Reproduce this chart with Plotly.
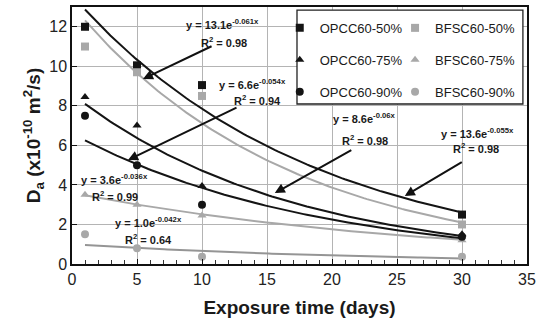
import numpy as np
import plotly.graph_objects as go

# ---------------- data ----------------
days = [1, 5, 10, 30]
series_names = ["OPCC60-50%", "BFSC60-50%", "OPCC60-75%", "BFSC60-75%", "OPCC60-90%", "BFSC60-90%"]
opcc_50 = [12.0, 10.05, 9.05, 2.5]
bfsc_50 = [11.0, 9.7, 8.5, 2.0]
opcc_75 = [8.45, 7.0, 3.95, 1.5]
bfsc_75 = [3.5, 3.0, 2.45, 1.2]
opcc_90 = [7.5, 5.0, 3.0, 1.38]
bfsc_90 = [1.5, 0.8, 0.37, 0.37]

# exponential trend lines  y = a * exp(b x)
fit_a = [13.6, 13.1, 8.6, 3.6, 6.6, 1.0]
fit_b = [-0.055, -0.061, -0.06, -0.036, -0.054, -0.042]
fit_r2 = ["0.98", "0.98", "0.98", "0.99", "0.94", "0.64"]
fit_a_txt = ["13.6", "13.1", "8.6", "3.6", "6.6", "1.0"]
fit_b_txt = ["-0.055x", "-0.061x", "-0.06x", "-0.036x", "-0.054x", "-0.042x"]

x_ticks = [0, 5, 10, 15, 20, 25, 30, 35]
y_ticks = [0, 2, 4, 6, 8, 10, 12]

BLACK = "#141414"
GRAY = "#a8a8a8"
GRAY2 = "#959595"
FONT = "Arial, Liberation Sans, sans-serif"

values = [opcc_50, bfsc_50, opcc_75, bfsc_75, opcc_90, bfsc_90]
colors = [BLACK, GRAY, BLACK, GRAY, BLACK, GRAY]
symbols = ["square", "square", "triangle-up", "triangle-up", "circle", "circle"]
sizes = [8, 8, 8, 8, 8, 8]
curve_colors = [BLACK, GRAY, BLACK, GRAY, BLACK, GRAY2]

fig = go.Figure()

# trend curves
xs = np.linspace(1, 30, 120)
for a, b, c in zip(fit_a, fit_b, curve_colors):
    fig.add_trace(go.Scatter(x=xs, y=a * np.exp(b * xs), mode="lines",
                             line=dict(color=c, width=2), showlegend=False,
                             hoverinfo="skip"))

# data markers
for i, (name, vals, col, sym, sz) in enumerate(zip(series_names, values, colors, symbols, sizes)):
    fig.add_trace(go.Scatter(
        x=days, y=vals, mode="markers", name=name,
        marker=dict(symbol=sym, color=col, size=sz, line=dict(width=0)),
        legend="legend" if i % 2 == 0 else "legend2",
        legendgroup=name,
    ))

# ---------------- annotations ----------------
ann_font = dict(family=FONT, size=11, color="#1a1a1a")

eq_pos = [(31.2, 6.62), (11.6, 12.14), (22.5, 7.38), (3.25, 4.30), (13.9, 9.10), (5.92, 2.12)]
r2_pos = [(31.1, 5.85), (11.7, 11.23), (22.5, 6.27), (3.3, 3.44), (14.3, 8.30), (5.92, 1.26)]

for (ex, ey), (rx, ry), a, b, r in zip(eq_pos, r2_pos, fit_a_txt, fit_b_txt, fit_r2):
    fig.add_annotation(x=ex, y=ey, text=f"<b>y = {a}e<sup>{b}</sup></b>",
                       showarrow=False, font=ann_font)
    fig.add_annotation(x=rx, y=ry, text=f"<b>R<sup>2</sup> = {r}</b>",
                       showarrow=False, font=ann_font)

# arrows: (tail_x, tail_y, head_x, head_y)
arrows = [
    (10.85, 11.05, 5.46, 9.36),
    (12.77, 7.95, 4.31, 5.26),
    (21.6, 5.8, 15.6, 3.59),
    (30.1, 5.2, 25.6, 3.44),
]
for tx, ty, hx, hy in arrows:
    fig.add_annotation(x=hx, y=hy, ax=tx, ay=ty, axref="x", ayref="y",
                       xref="x", yref="y", text="", showarrow=True,
                       arrowhead=2, arrowsize=1.0, arrowwidth=2,
                       arrowcolor="#111111", standoff=0)

# legend frame
fig.add_shape(type="rect", xref="paper", yref="paper",
              x0=0.4945, x1=0.991, y0=0.6226, y1=0.988,
              line=dict(color="#222222", width=1.3), fillcolor="white",
              layer="above")

legend_common = dict(
    orientation="v", bgcolor="rgba(0,0,0,0)", borderwidth=0,
    font=dict(family=FONT, size=13, color="#1a1a1a"),
    tracegroupgap=12, itemsizing="trace", yanchor="top", xanchor="left",
)

fig.update_layout(
    width=539, height=324,
    margin=dict(l=72, r=12, t=7, b=60, autoexpand=False),
    paper_bgcolor="white", plot_bgcolor="white",
    font=dict(family=FONT, size=16, color="#222222"),
    legend=dict(x=0.4566, y=0.977, **legend_common),
    legend2=dict(x=0.71, y=0.977, **legend_common),
    xaxis=dict(
        range=[0, 35], tickvals=x_ticks, ticktext=[str(v) for v in x_ticks],
        showgrid=True, gridcolor="#b4b4b4", gridwidth=1,
        showline=True, linecolor="#111111", linewidth=1.5, mirror=True,
        ticks="inside", ticklen=5, tickcolor="#111111",
        minor=dict(dtick=1, ticks="inside", ticklen=4, tickcolor="#333333", showgrid=False),
        zeroline=False, automargin=False,
        tickfont=dict(family=FONT, size=16, color="#222222"),
        title=dict(text="<b>Exposure time (days)</b>",
                   font=dict(family=FONT, size=19, color="#1a1a1a"), standoff=14),
    ),
    yaxis=dict(
        range=[0, 13], tickvals=y_ticks, ticktext=[str(v) for v in y_ticks],
        showgrid=True, gridcolor="#b4b4b4", gridwidth=1,
        showline=True, linecolor="#111111", linewidth=1.5, mirror=True,
        ticks="inside", ticklen=5, tickcolor="#111111",
        zeroline=False, automargin=False,
        tickfont=dict(family=FONT, size=16, color="#222222"),
        title=dict(text="<b>D<sub>a</sub> (x10<sup>-10</sup> m<sup>2</sup>/s)</b>",
                   font=dict(family=FONT, size=19, color="#1a1a1a"), standoff=4),
    ),
)

fig.write_html("out.html",
               config={"displayModeBar": False},
               post_script="document.body.style.margin='0px';document.body.style.overflow='hidden';")
